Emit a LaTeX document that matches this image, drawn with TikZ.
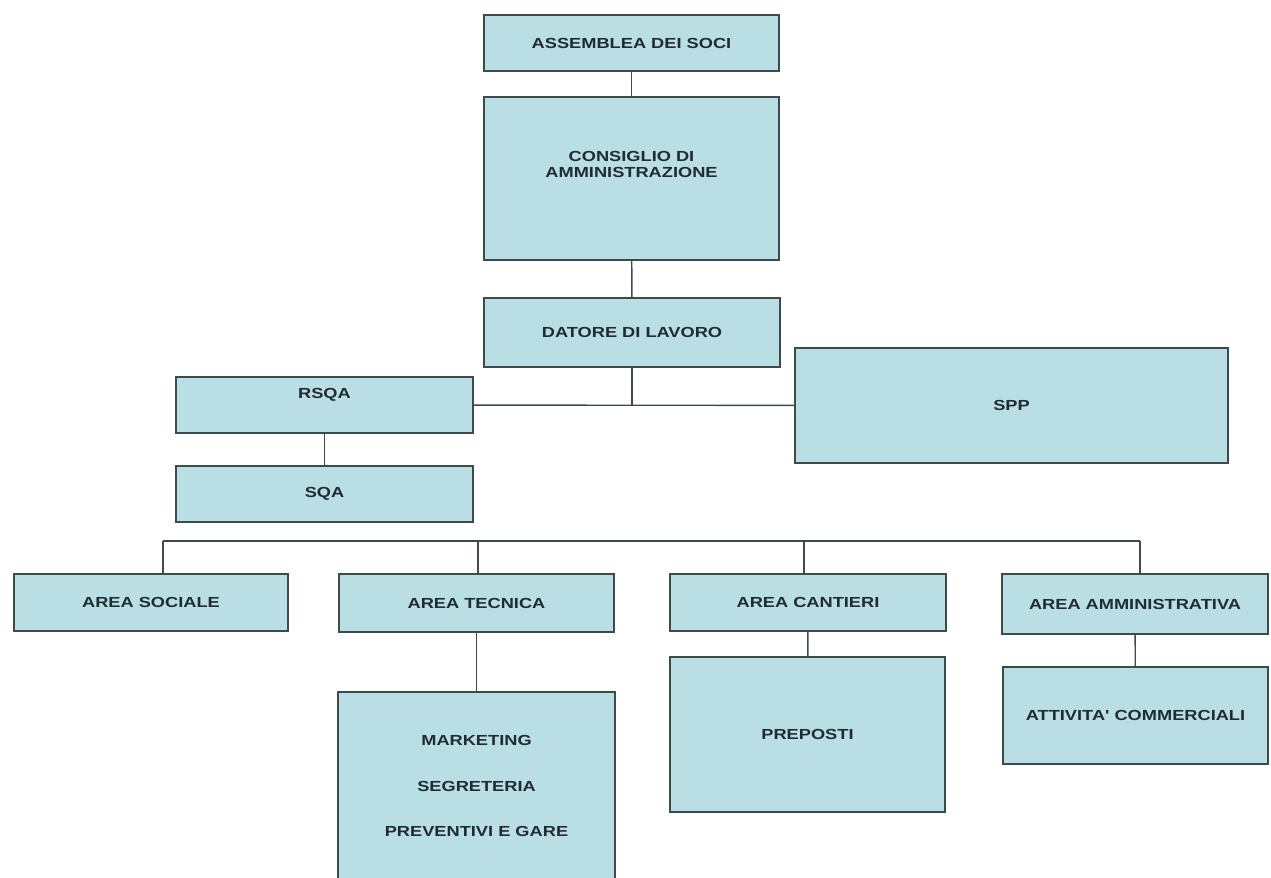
\documentclass[tikz,border=0pt]{standalone}
\usepackage{fontspec}
\newfontfamily\orgfont[FakeStretch=1.25]{Liberation Sans}
\definecolor{boxfill}{HTML}{B9DEE3}
\definecolor{boxline}{HTML}{3F4A4C}
\definecolor{boxtext}{HTML}{1F2D33}

\begin{document}
\begin{tikzpicture}[x=0.02cm, y=-0.02cm,
    every node/.style={draw=boxline, fill=boxfill, line width=1.1pt, align=center,
      inner sep=0pt, text=boxtext, font={\orgfont\bfseries\fontsize{8.3}{8.6}\selectfont}},
    dims/.style 2 args={minimum width=#1cm, minimum height=#2cm},
    link/.style={draw=boxline, line width=0.8pt}]
  \useasboundingbox (0,0) rectangle (1271,877);

  % vertice
  \node[dims={5.9}{1.12}]  (asm)  at (631.5,43)   {ASSEMBLEA DEI SOCI};
  \node[dims={5.9}{3.26}]  (cda)  at (631.5,178.5) {CONSIGLIO DI\\AMMINISTRAZIONE\\[7.4pt]\mbox{}};
  \node[dims={5.92}{1.38}] (dat)  at (632,332.5)  {DATORE DI LAVORO};

  % staff
  \node[dims={5.94}{1.12}] (rsqa) at (324.5,405)  {RSQA\\[5pt]\mbox{}};
  \node[dims={5.94}{1.12}] (sqa)  at (324.5,494)  {SQA};
  \node[dims={8.66}{2.30}] (spp)  at (1011.5,405.5) {SPP};

  % aree
  \node[dims={5.48}{1.14}] (soc)  at (151,602.5)  {AREA SOCIALE};
  \node[dims={5.50}{1.16}] (tec)  at (476.5,603)  {AREA TECNICA};
  \node[dims={5.52}{1.14}] (can)  at (808,602.5)  {AREA CANTIERI};
  \node[dims={5.32}{1.20}] (amm)  at (1135,604)   {AREA AMMINISTRATIVA};

  \node[dims={5.54}{3.76}] (mkt)  at (476.5,786)  {MARKETING\\[17.5pt]SEGRETERIA\\[17.5pt]PREVENTIVI E GARE};
  \node[dims={5.50}{3.10}] (pre)  at (807.5,734.5) {PREPOSTI};
  \node[dims={5.30}{1.94}] (att)  at (1135.5,715.5) {ATTIVITA' COMMERCIALI};

  % collegamenti
  \draw[link] (asm) -- (cda);
  \draw[link] (cda) -- (dat);
  \draw[link] (rsqa) -- (spp);
  \draw[link] (dat) -- (dat |- rsqa);
  \draw[link] (rsqa) -- (sqa);

  \coordinate (busL) at (163,541);
  \coordinate (busR) at (1140,541);
  \draw[link] (busL) -- (busR);
  \foreach \n/\x in {soc/163, tec/478, can/804, amm/1140}
    \draw[link] (\x,541) -- (\x,0 |- \n.north);

  \draw[link] (tec) -- (mkt);
  \draw[link] (can) -- (pre);
  \draw[link] (amm) -- (att);
\end{tikzpicture}
\end{document}
